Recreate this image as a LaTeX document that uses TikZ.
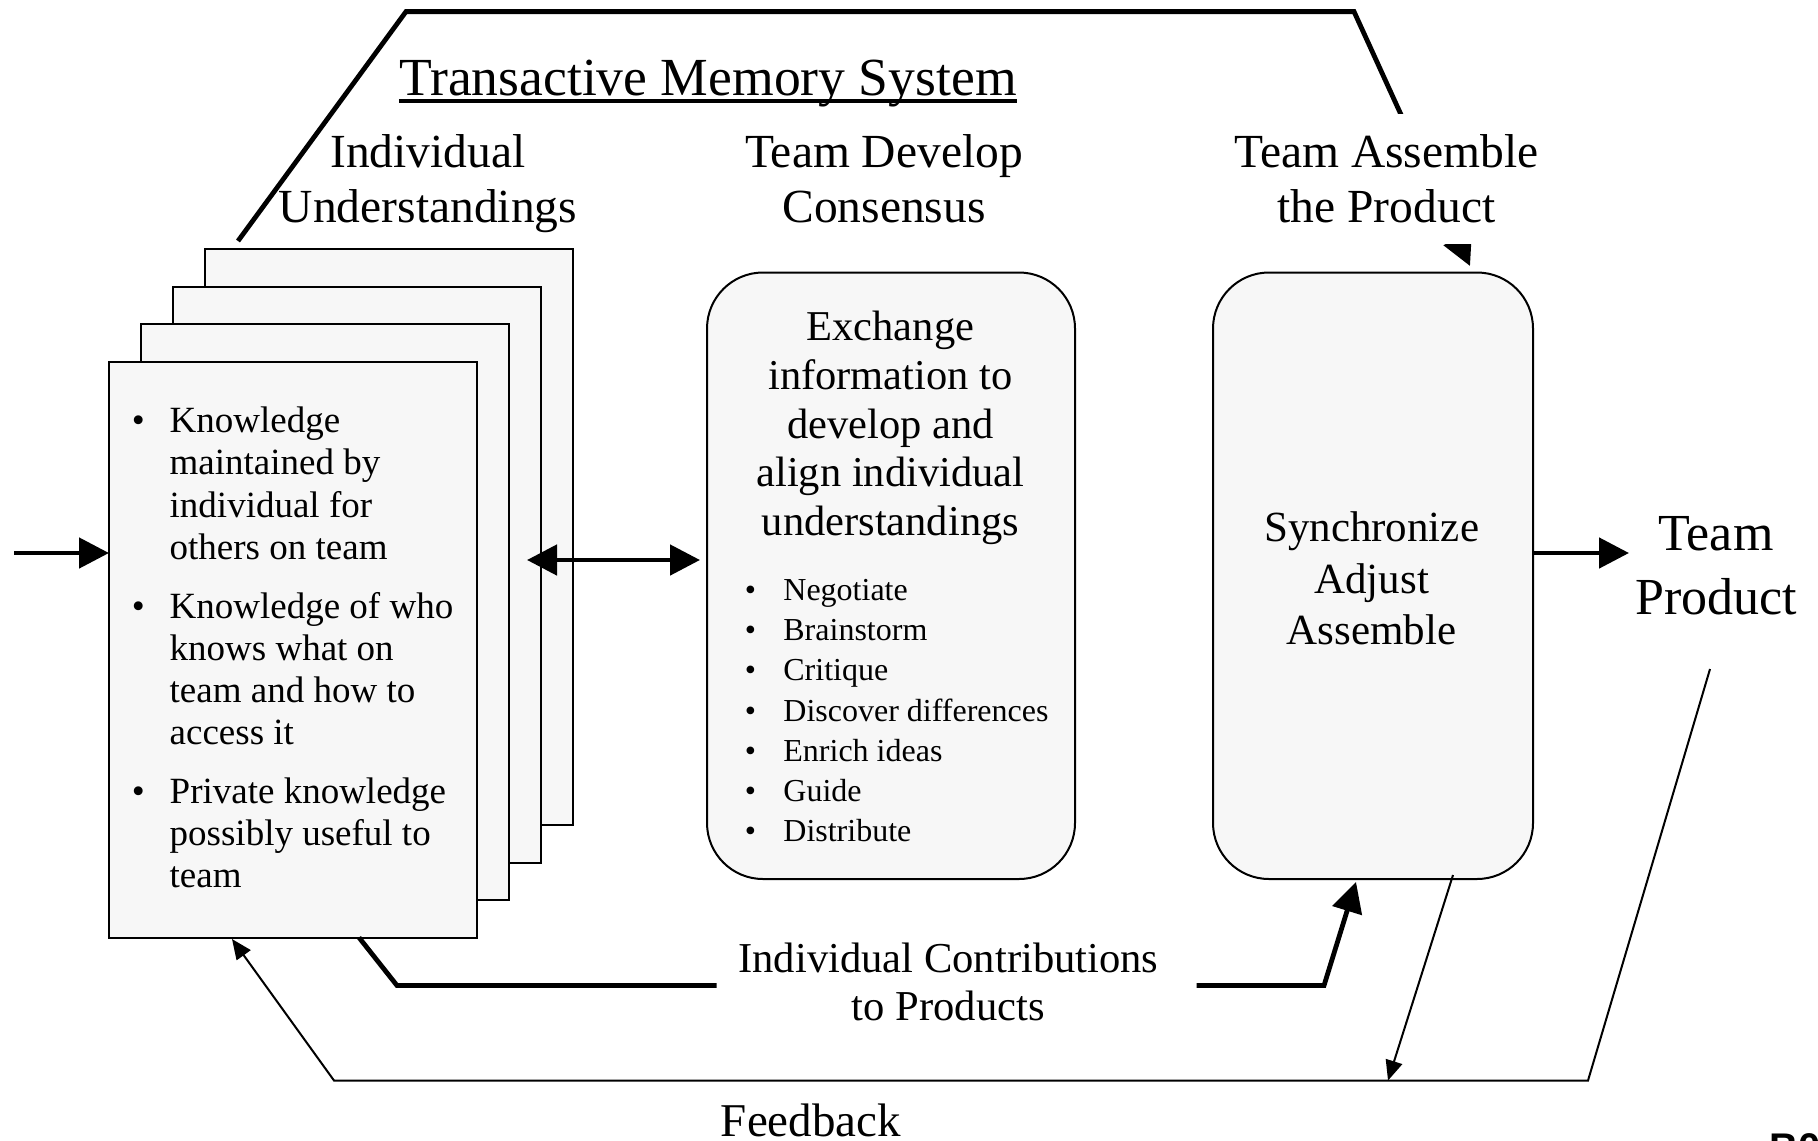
\documentclass[tikz,border=0pt]{standalone}
\usepackage{fontspec}
\setmainfont{Liberation Serif}
\newfontfamily\sansbold{Liberation Sans}
\usetikzlibrary{arrows.meta}
\definecolor{boxgray}{HTML}{F7F7F7}
\newcommand{\headfnt}{\fontsize{23.75pt}{27.5pt}\selectfont}
\begin{document}
\begin{tikzpicture}[x=0.5pt,y=-0.5pt,
  page/.style={draw=black,line width=1pt,fill=boxgray,anchor=north west,minimum width=184pt,minimum height=288pt,inner sep=0pt,outer sep=0pt},
  rbox/.style={draw=black,line width=1pt,fill=boxgray,rounded corners=28pt,anchor=north west,minimum height=303.25pt,inner sep=0pt,outer sep=0pt},
  heavyline/.style={line width=2.4pt},
  heavytip/.style={-{Triangle[length=15pt,width=15pt]}},
  thinline/.style={line width=1pt},
  lighttip/.style={-{Triangle[length=10pt,width=8.5pt]}},
  lbl/.style={inner sep=0pt,align=center,anchor=north},
]
\useasboundingbox (0,0) rectangle (1818,1140);

% top thick connector (passes behind the "Team Assemble" label)
\coordinate (tl0) at (238,241);
\coordinate (tl1) at (406,11.6);
\coordinate (tl2) at (1354,11.6);
\coordinate (tltip) at (1470,266);
\draw[heavyline,heavytip] (tl0) -- (tl1) -- (tl2) -- (tltip);
\node[lbl,fill=white,inner xsep=4pt,inner ysep=10.5pt,font=\headfnt] (asm) at (1386.5,113.5) {Team Assemble\\the Product};

% stacked pages
\node[page] (p4) at (205,249) {};
\node[page] (p3) at (173,286.5) {};
\node[page] (p2) at (141,324) {};
\node[page] (p1) at (109,361.5) {};

% rounded boxes
\node[rbox,minimum width=184pt] (exch) at (707,272.5) {};
\node[rbox,minimum width=160pt] (sync) at (1213,272.5) {};

% bottom thick connector
\coordinate (b0) at (359,937.5);
\coordinate (b1) at (397,985.5);
\coordinate (bl) at (716.5,985.5);
\coordinate (br) at (1196.5,985.5);
\coordinate (b2) at (1324,985.5);
\coordinate (btip) at (1356,882);
\draw[heavyline] (b0) -- (b1) -- (bl);
\draw[heavyline,heavytip] (br) -- (b2) -- (btip);

% feedback connectors
\coordinate (f0) at (1710,669);
\coordinate (f1) at (1588,1080.5);
\coordinate (f2) at (334,1080.5);
\coordinate (ftip) at (232,939);
\draw[thinline,lighttip] (f0) -- (f1) -- (f2) -- (ftip);
\coordinate (s0) at (1453,875);
\coordinate (stip) at (1388,1080.5);
\draw[thinline,lighttip] (s0) -- (stip);

% horizontal arrows
\coordinate (in0) at (14,553);
\draw[heavyline,heavytip] (in0) -- (in0 -| p1.west);
\coordinate (dl) at (527,560);
\draw[heavyline,{Triangle[length=15pt,width=15pt]}-{Triangle[length=15pt,width=15pt]}] (dl) -- ([xshift=-3.5pt]dl -| exch.west);
\coordinate (outtip) at (1629,553);
\draw[heavyline,heavytip] (in0 -| sync.east) -- (outtip);

% texts
\node[inner sep=0pt,anchor=base,font=\fontsize{26.8pt}{30pt}\selectfont] (title) at (708,95) {Transactive Memory System};
\draw[line width=1.6pt] ([yshift=-3pt]title.base west) -- ([yshift=-3pt]title.base east);

\node[lbl,font=\headfnt] (indiv) at (428,134.5) {Individual\\Understandings};
\node[lbl,font=\headfnt] (dev) at (884,134.5) {Team Develop\\Consensus};

\node[lbl,font=\fontsize{21.25pt}{24.35pt}\selectfont] (extext) at (890.4,311) {Exchange\\information to\\develop and\\align individual\\understandings};

\node[inner sep=0pt,anchor=north west,align=left,font=\fontsize{16pt}{20.1pt}\selectfont] (exlist) at (744.4,578.8) {%
\makebox[19.3pt][l]{•}Negotiate\\
\makebox[19.3pt][l]{•}Brainstorm\\
\makebox[19.3pt][l]{•}Critique\\
\makebox[19.3pt][l]{•}Discover differences\\
\makebox[19.3pt][l]{•}Enrich ideas\\
\makebox[19.3pt][l]{•}Guide\\
\makebox[19.3pt][l]{•}Distribute};

\node[inner sep=0pt,anchor=north west,align=left,font=\fontsize{18.5pt}{21.05pt}\selectfont] (ktext) at (131.5,406.8) {%
\makebox[18.9pt][l]{•}Knowledge\\
\hspace*{18.9pt}maintained by\\
\hspace*{18.9pt}individual for\\
\hspace*{18.9pt}others on team\\[8.5pt]
\makebox[18.9pt][l]{•}Knowledge of who\\
\hspace*{18.9pt}knows what on\\
\hspace*{18.9pt}team and how to\\
\hspace*{18.9pt}access it\\[8.5pt]
\makebox[18.9pt][l]{•}Private knowledge\\
\hspace*{18.9pt}possibly useful to\\
\hspace*{18.9pt}team};

\node[lbl,font=\fontsize{21.5pt}{25.8pt}\selectfont] (synctext) at (1371.6,511.3) {Synchronize\\Adjust\\Assemble};

\node[lbl,font=\fontsize{26pt}{31.9pt}\selectfont] (prod) at (1716,516.3) {Team\\Product};

\node[lbl,font=\fontsize{21.3pt}{23.75pt}\selectfont] (contrib) at (948.4,942.8) {Individual Contributions\\to Products};

\node[inner sep=0pt,anchor=base,font=\fontsize{23.5pt}{28pt}\selectfont] (fb) at (811,1136) {Feedback};

\node[inner sep=0pt,anchor=north west,font=\sansbold\bfseries\fontsize{20pt}{24pt}\selectfont] (pg) at (1769,1133) {B0};
\end{tikzpicture}
\end{document}
